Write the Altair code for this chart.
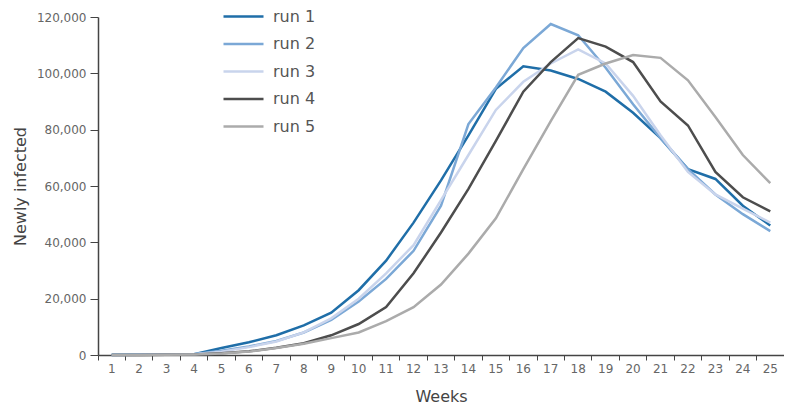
import altair as alt
import pandas as pd

weeks = list(range(1, 26))
runs = ["run 1", "run 2", "run 3", "run 4", "run 5"]
colors = ["#1f6ea8", "#7ba8d6", "#c9d4ec", "#4d4d4d", "#ababab"]

run1 = [100, 200, 300, 300, 2500, 4500, 7000, 10500, 15000, 23000, 33500, 47000, 62000, 78000,
        94500, 102500, 101000, 98000, 93500, 86000, 77000, 66000, 62500, 53000, 46000]
run2 = [0, 100, 200, 300, 1500, 3000, 5000, 8000, 12500, 19000, 27000, 37000, 53000, 82000,
        95000, 109000, 117500, 113500, 102000, 89000, 77000, 66000, 57000, 50000, 44000]
run3 = [0, 100, 200, 300, 1200, 2800, 4800, 8000, 13000, 20000, 29000, 39000, 55000, 71000,
        87000, 97000, 103500, 108500, 103500, 92000, 78000, 65000, 57000, 52000, 47000]
run4 = [0, 0, 100, 200, 600, 1300, 2600, 4200, 7000, 11000, 17000, 29000, 43500, 59000,
        76000, 93500, 104000, 112500, 109500, 104000, 90000, 81500, 65000, 56000, 51000]
run5 = [0, 0, 100, 200, 500, 1200, 2500, 4000, 6000, 8000, 12000, 17000, 25000, 36000,
        48500, 66000, 83000, 99500, 103500, 106500, 105500, 97500, 84500, 71000, 61000]

series = [run1, run2, run3, run4, run5]
rows = []
for i, (name, vals) in enumerate(zip(runs, series)):
    for w, v in zip(weeks, vals):
        rows.append({"week": w, "value": v, "run": name, "z": len(runs) - i})
df = pd.DataFrame(rows)

font = "DejaVu Sans"

chart = alt.Chart(df).mark_line(strokeWidth=2.5).encode(
    x=alt.X("week:O", bandPosition=0.5,
            scale=alt.Scale(type="band", paddingInner=0, paddingOuter=0),
            axis=alt.Axis(title="Weeks", labelAngle=0, bandPosition=0, tickSize=5,
                          labelPadding=3, titlePadding=14, grid=False)),
    y=alt.Y("value:Q", scale=alt.Scale(domain=[0, 120000], nice=False),
            axis=alt.Axis(title="Newly infected", values=list(range(0, 120001, 20000)),
                          format=",d", tickSize=8, labelPadding=4, titlePadding=8, grid=False)),
    color=alt.Color("run:N", scale=alt.Scale(domain=runs, range=colors),
                    legend=alt.Legend(title=None, orient="none", legendX=134, legendY=-12,
                                      symbolType="M-2,0H2", symbolSize=400,
                                      symbolStrokeWidth=2.5, labelFontSize=16,
                                      labelColor="#555555", labelFont=font,
                                      labelOffset=18, rowPadding=7.5)),
    order=alt.Order("z:Q"),
).properties(
    width=686, height=338,
    autosize=alt.AutoSizeParams(type="none"),
    padding={"left": 90, "top": 9, "right": 0, "bottom": 51},
).configure_view(
    stroke=None
).configure_axis(
    labelFont=font, labelFontSize=12, labelColor="#666666",
    titleFont=font, titleFontSize=16, titleColor="#444444", titleFontWeight="normal",
    domainColor="#444444", domainWidth=1.5, tickColor="#444444", tickWidth=1,
)

chart.save("out.html", embed_options={"renderer": "svg", "actions": False})
